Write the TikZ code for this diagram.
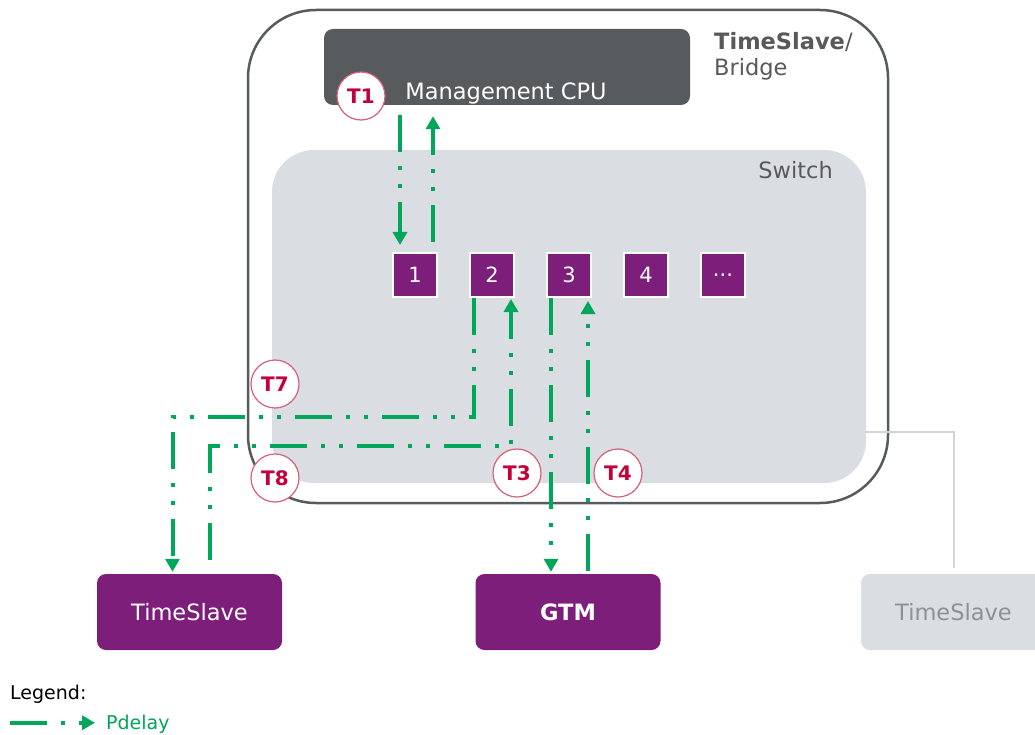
\documentclass[tikz,border=0pt]{standalone}
\usepackage{fontspec}
\setmainfont{DejaVu Sans}
\usepackage{tikz}
\usetikzlibrary{arrows.meta,positioning}
\definecolor{pdgreen}{RGB}{0,166,90}
\definecolor{ppurple}{RGB}{124,30,122}
\definecolor{cpugray}{RGB}{87,91,94}
\definecolor{swgray}{RGB}{218,221,225}
\definecolor{linkgray}{RGB}{208,212,216}
\definecolor{tred}{RGB}{196,0,58}
\definecolor{tring}{RGB}{214,96,120}
\definecolor{txtgray}{RGB}{89,89,89}
\definecolor{offgray}{RGB}{140,145,150}

\begin{document}
\begin{tikzpicture}[x=1pt,y=-1pt,>={Triangle[width=14pt,length=13pt]},node distance=77pt]
 \tikzstyle{pdelay}=[draw=pdgreen,line width=4pt,dash pattern=on 37pt off 14pt on 4pt off 14pt on 4pt off 14pt,->]
 \tikzstyle{port}=[fill=ppurple,draw=white,line width=2pt,minimum size=44pt,inner sep=0pt,text=white,font=\fontsize{21}{25}\selectfont]
 \tikzstyle{stamp}=[circle,fill=white,draw=tring,line width=1.2pt,minimum size=48pt,inner sep=0pt,text=tred,font=\fontsize{20}{24}\selectfont\bfseries]
 \tikzstyle{station}=[rounded corners=9pt,minimum width=185pt,minimum height=76pt,inner sep=0pt,font=\fontsize{22.5}{27}\selectfont]
 \tikzstyle{label}=[inner sep=0pt,font=\fontsize{22.5}{27}\selectfont]

   \clip (0,0) rectangle (1035,735);
   \fill[white] (0,0) rectangle (1035,735);

   % bridge with switch and cpu
   \draw[cpugray,line width=2.5pt,rounded corners=68pt] (248,10) rectangle (888,503);
   \node[fill=swgray,rounded corners=42pt,minimum width=594pt,minimum height=333pt] (switch) at (569,316.5) {};
   \node[fill=cpugray,rounded corners=9pt,minimum width=366pt,minimum height=76pt] (cpu) at (507,67) {};
   \node[label,text=white,anchor=base] (cputext) at (506,100) {Management CPU};
   \node[label,text=txtgray,anchor=base west] (bridge1) at (714,50) {\textbf{TimeSlave}/};
   \node[label,text=txtgray,anchor=base west] (bridge2) at (714,76) {Bridge};
   \node[label,text=txtgray,anchor=base east] (swtext) at (833,179) {Switch};

   % ports
   \node[port] (p1) at (415,275) {1};
   \node[port] (p2) [right of = p1] {2};
   \node[port] (p3) [right of = p2] {3};
   \node[port] (p4) [right of = p3] {4};
   \node[port] (pn) [right of = p4] {...};

   % end stations
   \node[station,fill=ppurple,text=white] (ts) at (189.5,612) {TimeSlave};
   \node[station,fill=ppurple,text=white,font=\fontsize{22.5}{27}\selectfont\bfseries] (gtm) at (568,612) {GTM};
   \node[station,fill=swgray,text=offgray] (ts2) at (953.5,612) {TimeSlave};
   \draw[linkgray,line width=2pt] ([yshift=51pt]switch.south east) -| ([yshift=6pt]ts2.north);

   % pdelay messages
   \draw[pdelay,shorten <=10pt,shorten >=7pt] ([xshift=-15pt]p1.north |- cpu.south) -- ([xshift=-15pt]p1.north);
   \draw[pdelay,shorten <=10pt,shorten >=11pt] ([xshift=18pt]p1.north) -- ([xshift=18pt]p1.north |- cpu.south);
   \draw[pdelay,shorten >=2pt] ([xshift=-18pt]p2.south) -- ++(0,119) -| ([xshift=-17pt]ts.north);
   \draw[pdelay,shorten <=14pt,shorten >=1pt] ([xshift=20pt]ts.north) -- ++(0,-128) -| ([xshift=19pt]p2.south);
   \draw[pdelay,shorten >=2pt] ([xshift=-17pt]gtm.north |- p3.south) -- ([xshift=-17pt]gtm.north);
   \draw[pdelay,shorten <=3pt,shorten >=3pt] ([xshift=20pt]gtm.north) -- ([xshift=20pt]gtm.north |- p3.south);

   % timestamps
   \node[stamp] (t1) at (361,96) {T1};
   \node[stamp] (t7) at (275,384) {T7};
   \node[stamp] (t8) at (275,478) {T8};
   \node[stamp] (t3) at (517,473) {T3};
   \node[stamp] (t4) at (618,473) {T4};

   % legend
   \node[inner sep=0pt,anchor=base west,font=\fontsize{19}{22}\selectfont] (legend) at (10,699) {Legend:};
   \node[inner sep=0pt,anchor=base west,text=pdgreen,font=\fontsize{19}{22}\selectfont] (pdtext) at (106,729) {Pdelay};
   \draw[pdelay] ([xshift=-96pt,yshift=1pt]pdtext.west) -- ([xshift=-11pt,yshift=1pt]pdtext.west);

\end{tikzpicture}
\end{document}
